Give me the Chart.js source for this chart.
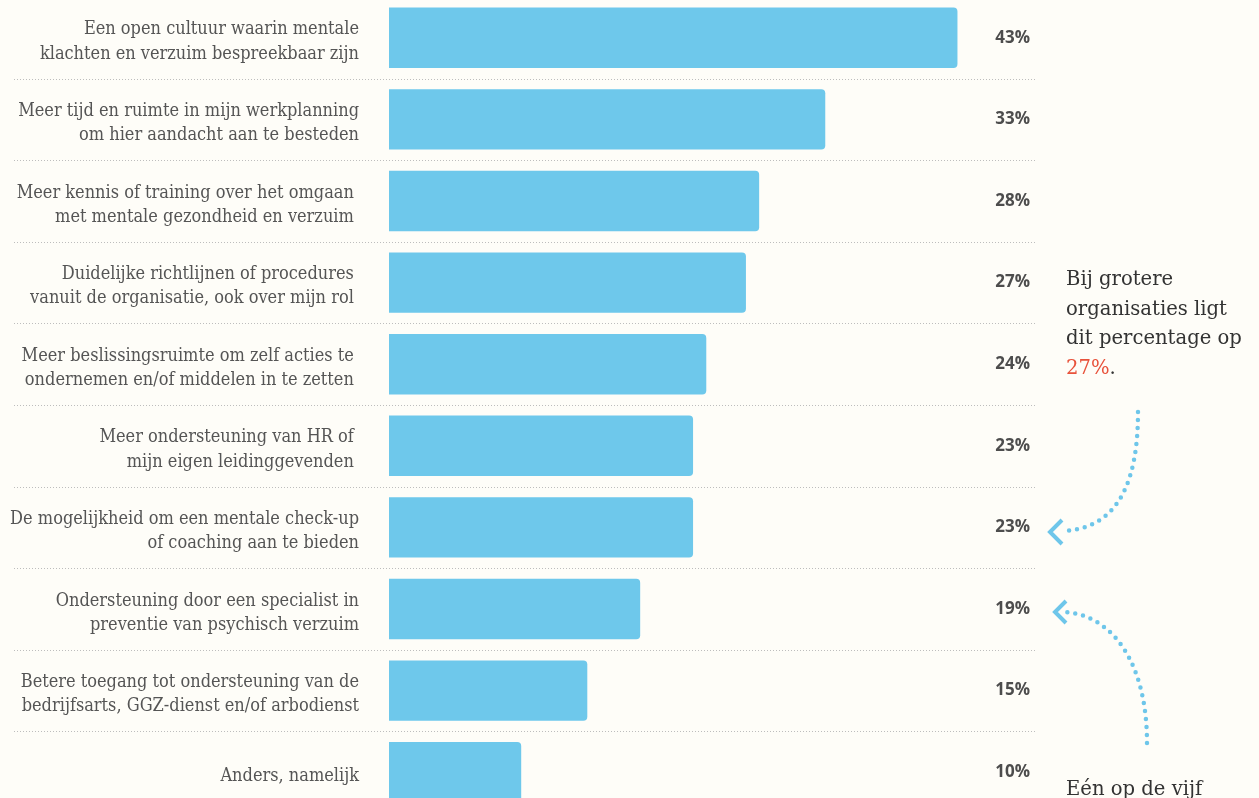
<!DOCTYPE html>
<html lang="nl">
<head>
<meta charset="utf-8">
<title>Mentale gezondheid op het werk</title>
<script src="https://cdn.jsdelivr.net/npm/chart.js@4.4.1/dist/chart.umd.min.js"></script>
<style>
    html, body {
        margin: 0;
        padding: 0;
        width: 1259px;
        height: 798px;
        overflow: hidden;
        background: #fefdf8;
    }
    .chart-container {
        position: absolute;
        left: 0;
        top: -3px;
        width: 1259px;
        height: 816px;
    }
    .note {
        position: absolute;
        left: 1066px;
        font-family: "DejaVu Serif", serif;
        font-size: 19.6px;
        line-height: 29.5px;
        color: #333333;
    }
    .note .hl {
        color: #e8523b;
    }
    svg.arrows {
        position: absolute;
        left: 0;
        top: 0;
        pointer-events: none;
    }
</style>
</head>
<body>
<div class="chart-container">
    <canvas id="needsChart"></canvas>
</div>

<div class="note" style="top: 264px;">Bij grotere<br>organisaties ligt<br>dit percentage op<br><span class="hl">27%</span>.</div>
<div class="note" style="top: 774px;">Eén op de vijf</div>

<svg class="arrows" width="1259" height="798">
    <g fill="none" stroke="#6ec6ea" stroke-width="4.5" stroke-linecap="round">
        <path d="M1138,412 C1138,492 1112,528 1064,531" stroke-dasharray="0 8" />
        <path d="M1147,743 C1147,662 1112,616 1066,612" stroke-dasharray="0 8" />
    </g>
    <g fill="none" stroke="#6ec6ea" stroke-width="4" stroke-linecap="butt">
        <polyline points="1062,520 1050,532 1062,544" />
        <polyline points="1066,601 1055,612 1066,623" />
    </g>
</svg>

<script>
// answers (survey, % of respondents)
const categories = [
    ["Een open cultuur waarin mentale", "klachten en verzuim bespreekbaar zijn"],
    ["Meer tijd en ruimte in mijn werkplanning", "om hier aandacht aan te besteden"],
    ["Meer kennis of training over het omgaan ", "met mentale gezondheid en verzuim "],
    ["Duidelijke richtlijnen of procedures ", "vanuit de organisatie, ook over mijn rol "],
    ["Meer beslissingsruimte om zelf acties te ", "ondernemen en/of middelen in te zetten "],
    ["Meer ondersteuning van HR of ", "mijn eigen leidinggevenden "],
    ["De mogelijkheid om een mentale check-up", "of coaching aan te bieden"],
    ["Ondersteuning door een specialist in", "preventie van psychisch verzuim"],
    ["Betere toegang tot ondersteuning van de", "bedrijfsarts, GGZ-dienst en/of arbodienst"],
    "Anders, namelijk",
];
const percentages = [43, 33, 28, 27, 24, 23, 23, 19, 15, 10];
const axisMax = 50;

// dotted separators between the rows
const rowSeparators = {
    id: "rowSeparators",
    beforeDatasetsDraw(chart) {
        const { ctx, scales } = chart;
        const y = scales.y;
        ctx.save();
        ctx.strokeStyle = "#bdbdbd";
        ctx.lineWidth = 1;
        ctx.setLineDash([1, 2]);
        for (let i = 0; i < categories.length - 1; i++) {
            const yy = Math.round((y.getPixelForValue(i) + y.getPixelForValue(i + 1)) / 2) + 0.5;
            ctx.beginPath();
            ctx.moveTo(14, yy);
            ctx.lineTo(1035, yy);
            ctx.stroke();
        }
        ctx.restore();
    },
};

// percentage labels at the right
const valueLabels = {
    id: "valueLabels",
    afterDatasetsDraw(chart) {
        const { ctx } = chart;
        const meta = chart.getDatasetMeta(0);
        ctx.save();
        ctx.font = "bold 17px 'Open Sans', sans-serif";
        ctx.fillStyle = "#4d4d4d";
        ctx.textAlign = "right";
        ctx.textBaseline = "middle";
        meta.data.forEach((bar, i) => {
            ctx.fillText(percentages[i] + "%", 1030, bar.y);
        });
        ctx.restore();
    },
};

const ctx = document.getElementById("needsChart").getContext("2d");

new Chart(ctx, {
    type: "bar",
    data: {
        labels: categories,
        datasets: [
            {
                data: percentages,
                backgroundColor: "#6ec8eb",
                borderRadius: 4,
                borderSkipped: "start",
                categoryPercentage: 1,
                barPercentage: 0.74,
            },
        ],
    },
    options: {
        indexAxis: "y",
        responsive: true,
        maintainAspectRatio: false,
        animation: false,
        layout: {
            padding: { top: 0, right: 209, bottom: 0, left: 0 },
        },
        scales: {
            x: {
                display: false,
                min: 0,
                max: axisMax,
            },
            y: {
                grid: { display: false, drawTicks: false },
                border: { display: false },
                afterFit: (scale) => {
                    scale.width = 389; // labels column
                    scale.paddingTop = 0;
                    scale.paddingBottom = 0;
                },
                ticks: {
                    padding: 30,
                    labelOffset: 4,
                    color: "#555555",
                    font: {
                        family: "'DejaVu Serif Condensed', 'DejaVu Serif', serif",
                        size: 18,
                        lineHeight: 1.34,
                    },
                },
            },
        },
        plugins: {
            legend: { display: false },
            tooltip: { enabled: false },
        },
    },
    plugins: [rowSeparators, valueLabels],
});
</script>
</body>
</html>
